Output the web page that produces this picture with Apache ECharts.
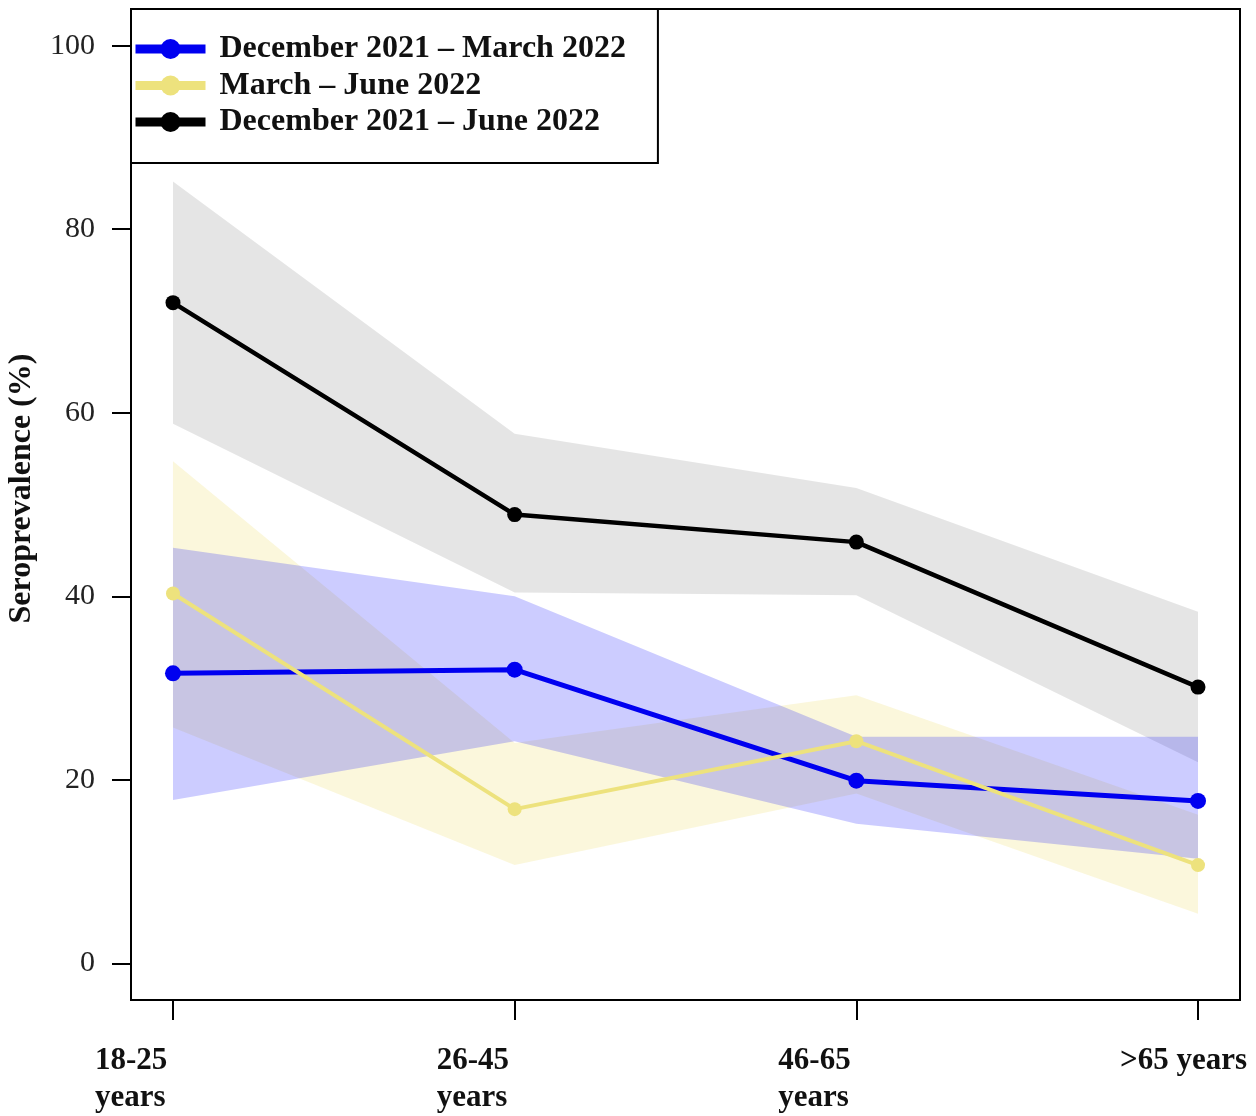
<!DOCTYPE html>
<html>
<head>
<meta charset="utf-8">
<script src="https://cdn.jsdelivr.net/npm/echarts@6/dist/echarts.min.js"></script>
<style>html,body{margin:0;padding:0;background:#fff}#c{width:1256px;height:1116px}</style>
</head>
<body>
<div id="c"></div>
<script>
const categories = ['18-25\nyears', '26-45\nyears', '46-65\nyears', '>65 years'];
const yTicks = [0, 20, 40, 60, 80, 100];

const decMar = [31.6, 32.0, 19.9, 17.7];
const decMarLo = [17.8, 24.2, 15.2, 11.4];
const decMarHi = [45.3, 40.0, 24.7, 24.7];

const marJun = [40.3, 16.8, 24.2, 10.7];
const marJunLo = [25.7, 10.7, 18.5, 5.4];
const marJunHi = [54.7, 24.0, 29.2, 16.2];

const decJun = [72.0, 48.9, 45.9, 30.1];
const decJunLo = [58.8, 40.4, 40.1, 21.9];
const decJunHi = [85.2, 57.7, 51.8, 38.3];

const FONT = "'Liberation Serif', 'Times New Roman', serif";
const idx = categories.map((_, i) => i);

function pts(arr) { return arr.map((v, i) => [i, v]); }
function band(name, lo, hi, color) {
  return {
    name: name, type: 'custom', xAxisIndex: 0, yAxisIndex: 0, silent: true, z: 1,
    data: idx.map(i => [i, lo[i], hi[i]]),
    encode: { x: 0, y: [1, 2] },
    renderItem: function (params, api) {
      if (params.dataIndex !== 0) return null;
      const points = [];
      for (let i = 0; i < hi.length; i++) points.push(api.coord([i, hi[i]]));
      for (let i = lo.length - 1; i >= 0; i--) points.push(api.coord([i, lo[i]]));
      return { type: 'polygon', shape: { points: points }, style: { fill: color } };
    }
  };
}
function line(name, data, color, width, size) {
  return { name: name, type: 'line', data: pts(data), symbol: 'circle', symbolSize: size,
    lineStyle: { color: color, width: width }, itemStyle: { color: color }, z: 5 };
}

const chart = echarts.init(document.getElementById('c'), null, { renderer: 'canvas' });
chart.setOption({
  animation: false,
  backgroundColor: '#fff',
  grid: [
    { left: 131, right: 16, top: 9, bottom: 116, show: true, borderColor: '#000', borderWidth: 2,
      backgroundColor: 'transparent', containLabel: false, outerBoundsMode: 'none' },
    { left: 53, right: 94, top: 9, bottom: 116, show: false, containLabel: false, outerBoundsMode: 'none' }
  ],
  legend: {
    data: ['December 2021 – March 2022', 'March – June 2022', 'December 2021 – June 2022'],
    orient: 'vertical', left: 131, top: 9,
    padding: [24, 32, 25, 0],
    itemGap: 4.5, itemWidth: 70, itemHeight: 25,
    borderColor: '#000', borderWidth: 2, backgroundColor: '#fff',
    lineStyle: { width: 9 },
    textStyle: { fontFamily: FONT, fontWeight: 'bold', fontSize: 32, color: '#111', lineHeight: 32, padding: [0, 0, 0, 9] }
  },
  xAxis: [
    { type: 'value', gridIndex: 0, min: -0.1229, max: 3.1229,
      axisLine: { show: false, onZero: false }, splitLine: { show: false },
      axisTick: { show: true, customValues: idx, length: 20, lineStyle: { color: '#000', width: 2 } },
      axisLabel: { show: false } },
    { type: 'value', gridIndex: 1, min: -0.1229, max: 3.1229,
      axisLine: { show: false, onZero: false }, splitLine: { show: false }, axisTick: { show: false },
      axisLabel: { show: true, customValues: idx, align: 'left', margin: 42,
        formatter: v => categories[Math.round(v)],
        fontFamily: FONT, fontWeight: 'bold', fontSize: 31, lineHeight: 37, color: '#111' } }
  ],
  yAxis: [
    { type: 'value', gridIndex: 0, min: -4, max: 104,
      name: 'Seroprevalence (%)', nameLocation: 'middle', nameGap: 93,
      nameTextStyle: { fontFamily: FONT, fontWeight: 'bold', fontSize: 32, color: '#111', padding: [0, 0, 0, 32] },
      axisLine: { show: false, onZero: false }, splitLine: { show: false },
      axisTick: { show: true, customValues: yTicks, length: 19, lineStyle: { color: '#000', width: 2 } },
      axisLabel: { show: true, customValues: yTicks, margin: 36, fontFamily: FONT, fontSize: 30, color: '#222' } },
    { type: 'value', gridIndex: 1, min: -4, max: 104, show: false, axisLine: { onZero: false } }
  ],
  series: [
    band('decJunBand', decJunLo, decJunHi, 'rgba(0,0,0,0.1)'),
    band('marJunBand', marJunLo, marJunHi, 'rgba(240,228,130,0.28)'),
    band('decMarBand', decMarLo, decMarHi, 'rgba(0,0,255,0.2)'),
    line('December 2021 – March 2022', decMar, '#0000F0', 5, 16),
    line('March – June 2022', marJun, '#EDE27D', 4, 14),
    line('December 2021 – June 2022', decJun, '#000000', 4.5, 15)
  ]
});
</script>
</body>
</html>
